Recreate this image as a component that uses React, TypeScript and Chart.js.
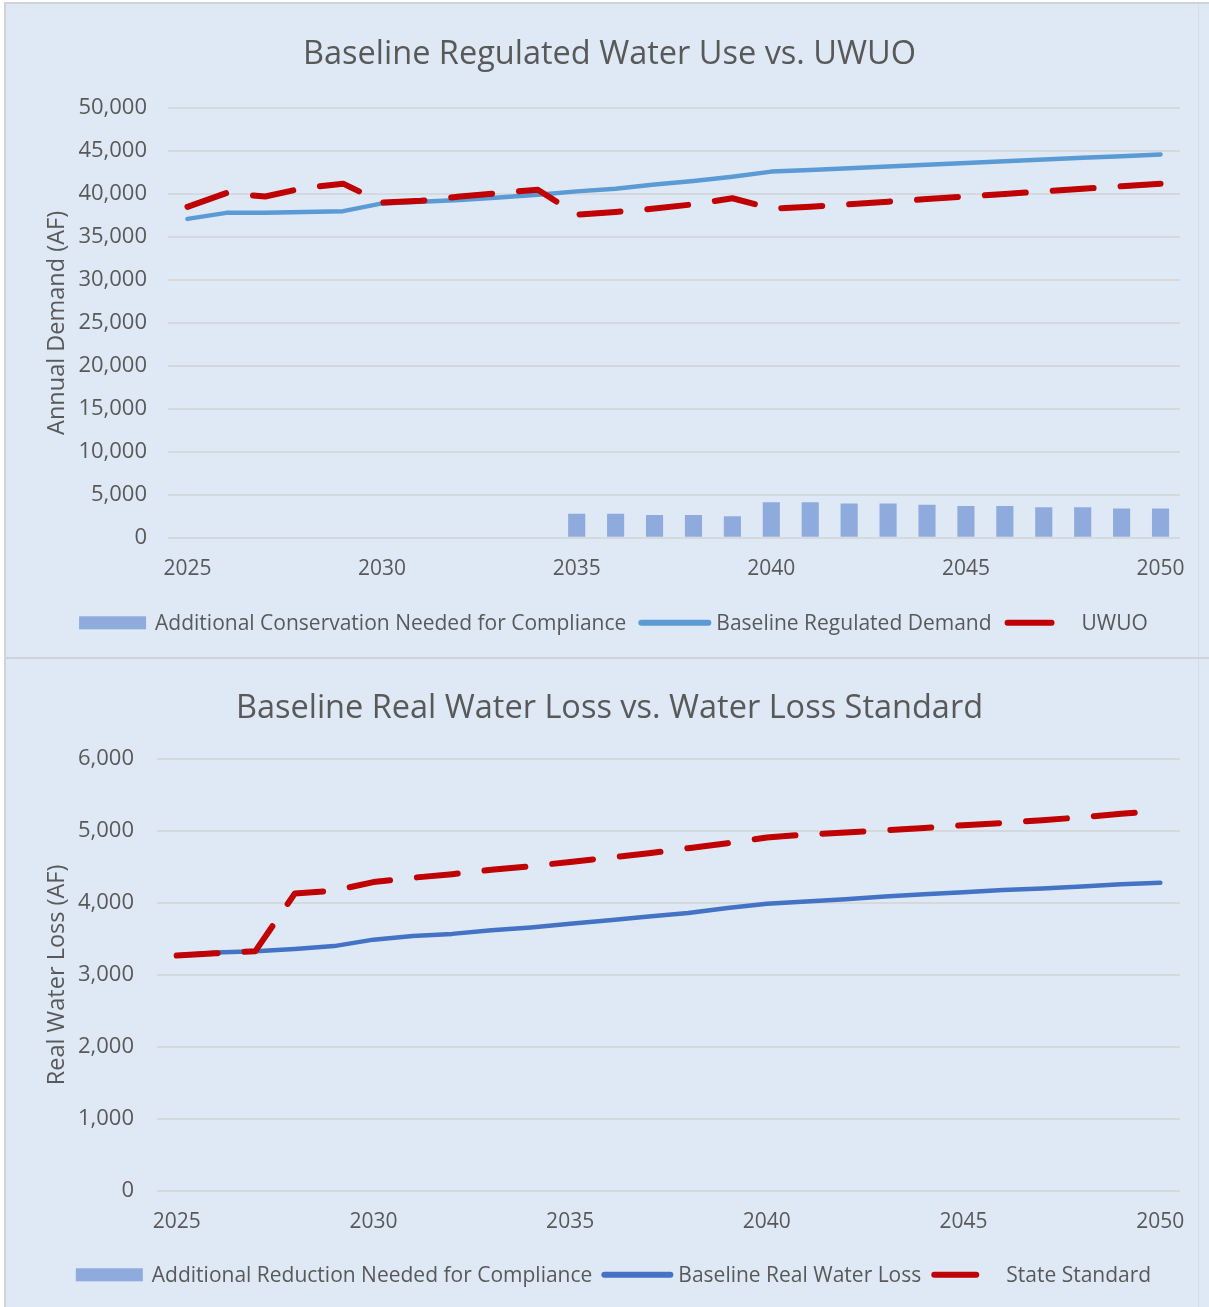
import React, { useEffect, useRef } from 'react';
import { Chart, registerables } from 'chart.js';

Chart.register(...registerables);

// ---------- data ----------
const years = [
  '2025', '2026', '2027', '2028', '2029', '2030', '2031', '2032', '2033', '2034',
  '2035', '2036', '2037', '2038', '2039', '2040', '2041', '2042', '2043', '2044',
  '2045', '2046', '2047', '2048', '2049', '2050',
];

// Chart 1: Baseline Regulated Water Use vs. UWUO (AF)
const conservationNeeded = [
  0, 0, 0, 0, 0, 0, 0, 0, 0, 0,
  2800, 2800, 2650, 2650, 2500, 4150, 4150, 4000, 4000, 3850,
  3700, 3700, 3550, 3550, 3400, 3400,
];
const baselineRegulatedDemand = [
  37100, 37800, 37800, 37900, 38000, 38900, 39100, 39300, 39600, 39900,
  40300, 40600, 41100, 41500, 42000, 42600, 42800, 43000, 43200, 43400,
  43600, 43800, 44000, 44200, 44400, 44600,
];
const uwuo = [
  38500, 40100, 39700, 40700, 41200, 39000, 39200, 39700, 40100, 40500,
  37600, 37900, 38300, 38800, 39500, 38300, 38500, 38800, 39100, 39400,
  39700, 40000, 40300, 40600, 40900, 41200,
];

// Chart 2: Baseline Real Water Loss vs. Water Loss Standard (AF)
const reductionNeeded = [
  0, 0, 0, 0, 0, 0, 0, 0, 0, 0,
  0, 0, 0, 0, 0, 0, 0, 0, 0, 0,
  0, 0, 0, 0, 0, 0,
];
const baselineRealWaterLoss = [
  3270, 3310, 3330, 3360, 3400, 3490, 3540, 3570, 3620, 3660,
  3710, 3760, 3810, 3860, 3930, 3990, 4020, 4050, 4090, 4120,
  4150, 4180, 4200, 4230, 4260, 4280,
];
const stateStandard = [
  3270, 3300, 3330, 4130, 4170, 4290, 4350, 4400, 4460, 4510,
  4570, 4630, 4690, 4760, 4830, 4910, 4950, 4980, 5010, 5040,
  5080, 5110, 5150, 5190, 5240, 5280,
];

// ---------- styling ----------
const FONT = "'Open Sans', sans-serif";
const TEXT = '#595959';
const GRID = '#d5d9de';
const BG = '#dee9f5';
const BAR_COLOR = '#8faadc';
const RED = '#c00000';

type LegendCfg = {
  swatch: number[];
  textGap: number[];
  itemGap: number[];
  offsetY: number;
  centerX: number;
  fontSize: number;
};

function makeLegend(cfg: LegendCfg) {
  return {
    id: 'excelLegend',
    afterDraw(chart: any) {
      const ctx: CanvasRenderingContext2D = chart.ctx;
      const dss = chart.data.datasets;
      ctx.save();
      ctx.font = `${cfg.fontSize}px ${FONT}`;
      const widths = dss.map((d: any) => ctx.measureText(d.label).width);
      let total = 0;
      dss.forEach((_d: any, i: number) => {
        total += cfg.swatch[i] + cfg.textGap[i] + widths[i];
        if (i < dss.length - 1) total += cfg.itemGap[i];
      });
      let x = cfg.centerX - total / 2;
      const y = chart.chartArea.bottom + cfg.offsetY;
      dss.forEach((d: any, i: number) => {
        const sw = cfg.swatch[i];
        if (d.type === 'bar') {
          ctx.fillStyle = d.backgroundColor;
          ctx.fillRect(x, y - 6.5, sw, 13);
        } else {
          ctx.strokeStyle = d.borderColor;
          ctx.lineWidth = 6;
          ctx.lineCap = 'round';
          ctx.setLineDash([]);
          ctx.beginPath();
          ctx.moveTo(x + 3, y);
          ctx.lineTo(x + sw - 3, y);
          ctx.stroke();
        }
        x += sw + cfg.textGap[i];
        ctx.fillStyle = TEXT;
        ctx.textAlign = 'left';
        ctx.textBaseline = 'middle';
        ctx.fillText(d.label, x, y + 1);
        x += widths[i];
        if (i < dss.length - 1) x += cfg.itemGap[i];
      });
      ctx.restore();
    },
  };
}

type Spec = {
  title: string;
  yTitle: string;
  barLabel: string;
  barData: number[];
  lineLabel: string;
  lineData: number[];
  lineColor: string;
  stdLabel: string;
  stdData: number[];
  yMax: number;
  yStep: number;
  padTop: number;
  titlePadTop: number;
  titlePadBottom: number;
  yWidth: number;
  yTickPad: number;
  padBottom: number;
  legend: LegendCfg;
};

function buildConfig(s: Spec): any {
  return {
    type: 'bar',
    data: {
      labels: years,
      datasets: [
        {
          type: 'bar',
          label: s.barLabel,
          data: s.barData,
          backgroundColor: BAR_COLOR,
          borderWidth: 0,
          barPercentage: 0.44,
          categoryPercentage: 1,
          order: 3,
        },
        {
          type: 'line',
          label: s.lineLabel,
          data: s.lineData,
          borderColor: s.lineColor,
          backgroundColor: s.lineColor,
          borderWidth: 4.5,
          pointRadius: 0,
          tension: 0,
          borderJoinStyle: 'round',
          borderCapStyle: 'round',
          order: 2,
        },
        {
          type: 'line',
          label: s.stdLabel,
          data: s.stdData,
          borderColor: RED,
          backgroundColor: RED,
          borderWidth: 6,
          borderDash: [41, 27],
          pointRadius: 0,
          tension: 0,
          borderJoinStyle: 'round',
          borderCapStyle: 'round',
          order: 1,
        },
      ],
    },
    options: {
      responsive: false,
      animation: false,
      devicePixelRatio: 1,
      events: [],
      layout: { padding: { top: s.padTop, left: 39, right: 29, bottom: s.padBottom } },
      plugins: {
        legend: { display: false },
        tooltip: { enabled: false },
        title: {
          display: true,
          text: s.title,
          color: TEXT,
          font: { family: FONT, size: 32.5, weight: 'normal', lineHeight: 1.2 },
          padding: { top: s.titlePadTop, bottom: s.titlePadBottom },
        },
      },
      scales: {
        x: {
          offset: true,
          grid: { display: false, drawTicks: false },
          border: { display: false },
          ticks: {
            autoSkip: false,
            maxRotation: 0,
            minRotation: 0,
            padding: 19,
            color: TEXT,
            font: { family: FONT, size: 21, lineHeight: 1.2 },
            callback: function (this: any, val: any) {
              const lab = this.getLabelForValue(val);
              return Number(lab) % 5 === 0 ? lab : '';
            },
          },
        },
        y: {
          min: 0,
          max: s.yMax,
          afterFit: (scale: any) => {
            scale.width = s.yWidth;
          },
          grid: { color: GRID, lineWidth: 2, drawTicks: false },
          border: { display: false },
          ticks: {
            stepSize: s.yStep,
            padding: s.yTickPad,
            color: TEXT,
            font: { family: FONT, size: 22, lineHeight: 1.2 },
            callback: (v: any) => Number(v).toLocaleString('en-US'),
          },
          title: {
            display: true,
            text: s.yTitle,
            color: TEXT,
            font: { family: FONT, size: 23.5, lineHeight: 1.2 },
            padding: { top: 4, bottom: 0 },
          },
        },
      },
    },
    plugins: [makeLegend(s.legend)],
  };
}

const topSpec: Spec = {
  title: 'Baseline Regulated Water Use vs. UWUO',
  yTitle: 'Annual Demand (AF)',
  barLabel: 'Additional Conservation Needed for Compliance',
  barData: conservationNeeded,
  lineLabel: 'Baseline Regulated Demand',
  lineData: baselineRegulatedDemand,
  lineColor: '#5b9bd5',
  stdLabel: 'UWUO',
  stdData: uwuo,
  yMax: 50000,
  yStep: 5000,
  padTop: 14,
  titlePadTop: 21,
  titlePadBottom: 34,
  yWidth: 129,
  yTickPad: 21,
  padBottom: 56,
  legend: { swatch: [67, 73, 50], textGap: [9, 5, 27], itemGap: [12, 13], offsetY: 85, centerX: 613.5, fontSize: 21 },
};

const bottomSpec: Spec = {
  title: 'Baseline Real Water Loss vs. Water Loss Standard',
  yTitle: 'Real Water Loss (AF)',
  barLabel: 'Additional Reduction Needed for Compliance',
  barData: reductionNeeded,
  lineLabel: 'Baseline Real Water Loss',
  lineData: baselineRealWaterLoss,
  lineColor: '#4472c4',
  stdLabel: 'State Standard',
  stdData: stateStandard,
  yMax: 6000,
  yStep: 1000,
  padTop: 15,
  titlePadTop: 14,
  titlePadBottom: 31,
  yWidth: 118,
  yTickPad: 23,
  padBottom: 53,
  legend: { swatch: [67, 72, 48], textGap: [9, 5, 27], itemGap: [9, 10], offsetY: 84, centerX: 613.5, fontSize: 21 },
};

function ChartCanvas({ spec, top, height }: { spec: Spec; top: number; height: number }) {
  const ref = useRef<HTMLCanvasElement>(null);
  useEffect(() => {
    const chart = new Chart(ref.current as HTMLCanvasElement, buildConfig(spec));
    return () => chart.destroy();
  }, [spec]);
  return (
    <canvas
      ref={ref}
      width={1209}
      height={height}
      style={{ position: 'absolute', left: 0, top, width: 1209, height, display: 'block' }}
    />
  );
}

export default function App() {
  return (
    <div
      style={{
        position: 'absolute',
        left: 0,
        top: 0,
        width: 1209,
        height: 1307,
        background: BG,
        overflow: 'hidden',
      }}
    >
      <div style={{ position: 'absolute', left: 0, top: 0, width: 1209, height: 2, background: '#ffffff' }} />
      <div style={{ position: 'absolute', left: 0, top: 2, width: 4, height: 1305, background: '#ffffff' }} />
      <div style={{ position: 'absolute', left: 4, top: 2, width: 2, height: 1305, background: '#d0d4d9' }} />
      <div style={{ position: 'absolute', left: 4, top: 2, width: 1205, height: 2, background: '#d0d4d9' }} />
      <div style={{ position: 'absolute', left: 1198, top: 4, width: 1, height: 1303, background: '#d6dde6' }} />
      <div style={{ position: 'absolute', left: 6, top: 657, width: 1203, height: 2, background: '#d0d4d9' }} />
      <ChartCanvas spec={topSpec} top={0} height={657} />
      <ChartCanvas spec={bottomSpec} top={660} height={647} />
    </div>
  );
}
